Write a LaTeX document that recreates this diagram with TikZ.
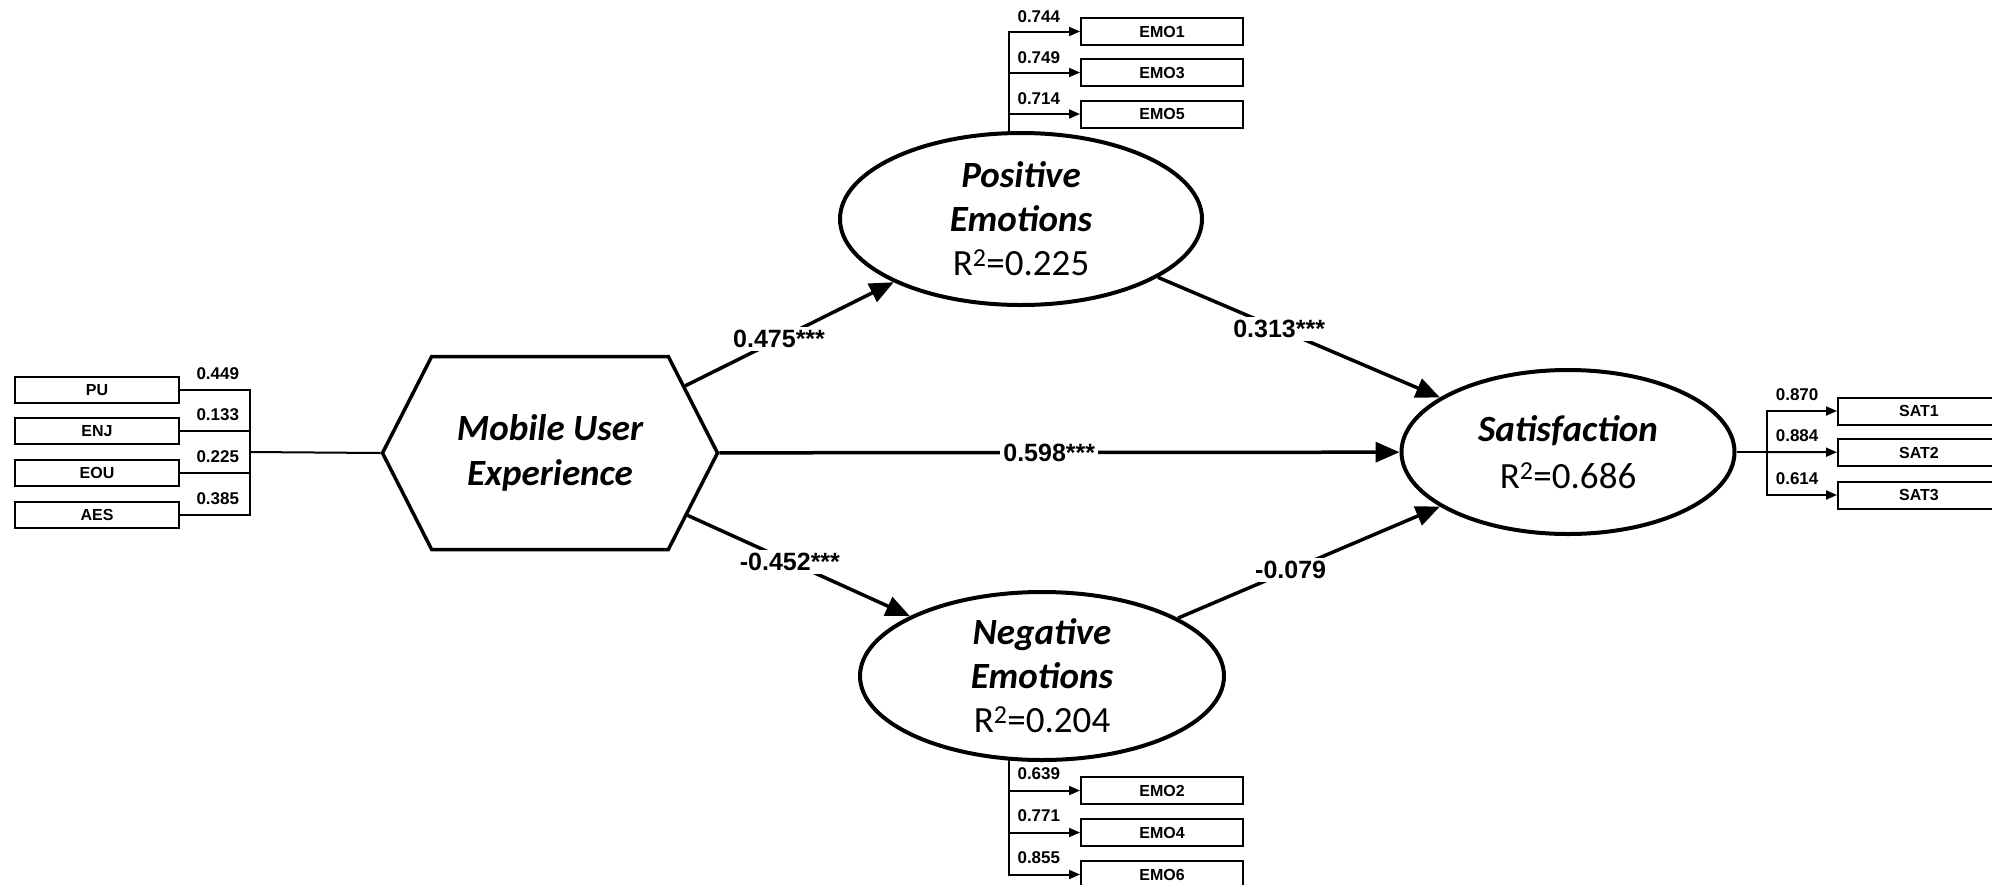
\documentclass[tikz,border=0pt]{standalone}
\usepackage{fontspec}
\setmainfont{Carlito}
\newfontfamily\arialfont{Liberation Sans}
\usetikzlibrary{arrows.meta,shapes.geometric,shapes.symbols}

\tikzset{
  latent/.style={draw, ellipse, line width=4pt, fill=white, inner sep=0pt, align=center,
    font=\fontsize{37}{44}\selectfont},
  construct/.style={draw, signal, signal to=east and west, signal pointer angle=126,
    line width=3.5pt, fill=white, minimum width=335pt, minimum height=193pt, inner sep=0pt,
    align=center, font=\fontsize{37}{45}\selectfont\bfseries\itshape},
  indicator/.style={draw, rectangle, line width=2pt, fill=white, minimum width=164pt,
    minimum height=26pt, inner sep=0pt, font=\arialfont\bfseries\fontsize{16}{16}\selectfont},
  loading/.style={inner sep=0pt, font=\arialfont\bfseries\fontsize{17}{17}\selectfont},
  path coef/.style={fill=white, inner sep=3pt, font=\arialfont\bfseries\fontsize{25}{25}\selectfont},
  structural/.style={line width=3.5pt, -{Triangle[length=24pt,width=20pt]}},
  measure/.style={line width=2pt},
  measure arrow/.style={line width=2pt, -{Triangle[length=11pt,width=9pt]}},
}

\begin{document}
\begin{tikzpicture}[x=1pt, y=-1pt]
  \path[use as bounding box] (0,0) rectangle (1992,884);
  \clip (0,0) rectangle (1992,884);

  % constructs
  \node[construct] (mux) at (550,453) {Mobile User\\Experience};
  \node[latent, minimum width=362pt, minimum height=172pt] (pos) at (1021,219)
    {\bfseries\itshape Positive\\\bfseries\itshape Emotions\\R\textsuperscript{2}=0.225};
  \node[latent, minimum width=364pt, minimum height=168pt] (neg) at (1042,676)
    {\bfseries\itshape Negative\\\bfseries\itshape Emotions\\R\textsuperscript{2}=0.204};
  \node[latent, minimum width=333pt, minimum height=164pt,
        font=\fontsize{37}{47}\selectfont] (sat) at (1568,452)
    {\bfseries\itshape Satisfaction\\R\textsuperscript{2}=0.686};

  % formative indicators of Mobile User Experience
  \node[indicator] (PU)  at (97,390)   {PU};
  \node[indicator] (ENJ) at (97,431)   {ENJ};
  \node[indicator] (EOU) at (97,472.5) {EOU};
  \node[indicator] (AES) at (97,514.5) {AES};

  % reflective indicators
  \node[indicator, minimum width=162pt, minimum height=27pt] (EMO1) at (1162,31.5)  {EMO1};
  \node[indicator, minimum width=162pt, minimum height=27pt] (EMO3) at (1162,72.5)  {EMO3};
  \node[indicator, minimum width=162pt, minimum height=27pt] (EMO5) at (1162,114)   {EMO5};
  \node[indicator, minimum width=162pt, minimum height=27pt] (EMO2) at (1162,790.5) {EMO2};
  \node[indicator, minimum width=162pt, minimum height=27pt] (EMO4) at (1162,832.5) {EMO4};
  \node[indicator, minimum width=162pt, minimum height=27pt] (EMO6) at (1162,874.5) {EMO6};
  \node[indicator, minimum width=162pt, minimum height=27pt] (SAT1) at (1919,411)   {SAT1};
  \node[indicator, minimum width=162pt, minimum height=27pt] (SAT2) at (1919,452.5) {SAT2};
  \node[indicator, minimum width=162pt, minimum height=27pt] (SAT3) at (1919,495)   {SAT3};

  % junction points of the measurement lines
  \coordinate (jL) at (250,452);
  \coordinate (jP) at (1009,133);
  \coordinate (jN) at (1009,760);
  \coordinate (jS) at (1767,452);

  % outer weights
  \draw[measure] (PU.east)  -| node[loading, pos=0.27, above=9pt] {0.449} (jL);
  \draw[measure] (ENJ.east) -| node[loading, pos=0.27, above=9pt] {0.133} (jL);
  \draw[measure] (EOU.east) -| node[loading, pos=0.27, above=9pt] {0.225} (jL);
  \draw[measure] (AES.east) -| node[loading, pos=0.27, above=9pt] {0.385} (jL);
  \draw[measure] (jL) -- (mux.west);

  % outer loadings
  \draw[measure arrow] (jP) |- node[loading, pos=0.71, above=8pt] {0.744} (EMO1);
  \draw[measure arrow] (jP) |- node[loading, pos=0.71, above=8pt] {0.749} (EMO3);
  \draw[measure arrow] (jP) |- node[loading, pos=0.71, above=8pt] {0.714} (EMO5);
  \draw[measure arrow] (jN) |- node[loading, pos=0.71, above=10pt] {0.639} (EMO2);
  \draw[measure arrow] (jN) |- node[loading, pos=0.71, above=10pt] {0.771} (EMO4);
  \draw[measure arrow] (jN) |- node[loading, pos=0.71, above=10pt] {0.855} (EMO6);
  \draw[measure] (sat.east) -- (jS);
  \draw[measure arrow] (jS) |- node[loading, pos=0.715, above=9pt] {0.870} (SAT1);
  \draw[measure arrow] (jS) -- node[loading, pos=0.43, above=9pt] {0.884} (SAT2);
  \draw[measure arrow] (jS) |- node[loading, pos=0.715, above=9pt] {0.614} (SAT3);

  % structural paths
  \draw[structural] (mux) -- node[path coef, pos=0.45] {0.475***} (pos);
  \draw[structural] (pos) -- node[path coef, pos=0.43] {0.313***} (sat);
  \draw[structural] (mux) -- node[path coef, pos=0.485] {0.598***} (sat);
  \draw[structural] (mux) -- node[path coef, pos=0.46] {-0.452***} (neg);
  \draw[structural] (neg) -- node[path coef, pos=0.43] {-0.079} (sat);
\end{tikzpicture}
\end{document}
